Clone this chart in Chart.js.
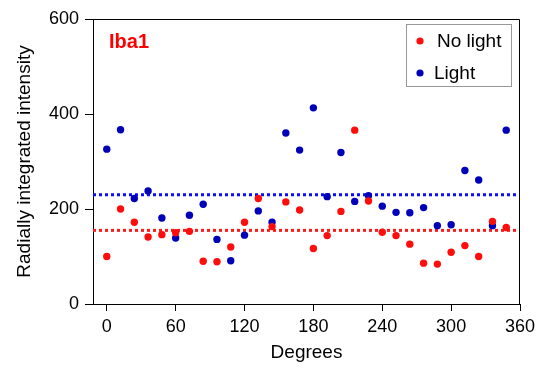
<!DOCTYPE html>
<html>
<head>
<meta charset="utf-8">
<script src="https://cdn.jsdelivr.net/npm/chart.js@4"></script>
<style>
  html, body { margin: 0; padding: 0; background: #fff; }
  #chart { display: block; }
</style>
</head>
<body>
<canvas id="chart" width="543" height="369"></canvas>
<script>
// Data
const degrees = [0, 12, 24, 36, 48, 60, 72, 84, 96, 108, 120, 132, 144, 156, 168,
                 180, 192, 204, 216, 228, 240, 252, 264, 276, 288, 300, 312, 324, 336, 348];
const noLight = [100, 200, 172, 141, 146, 150, 153, 90, 89, 120, 172, 222, 163, 215, 198,
                 117, 144, 195, 366, 217, 151, 144, 126, 86, 84, 109, 123, 100, 174, 161];
const light = [326, 367, 222, 238, 181, 139, 187, 210, 136, 91, 145, 196, 172, 360, 324,
               413, 226, 319, 216, 228, 206, 193, 192, 203, 165, 167, 281, 261, 165, 366];
const noLightMean = 155;
const lightMean = 230;
const xTicks = [0, 60, 120, 180, 240, 300, 360];
const yTicks = [0, 200, 400, 600];

const RED = '#ff0d0d';
const BLUE = '#0000b8';
const FONT = 'Arial, "Liberation Sans", Helvetica, sans-serif';

// Frame, panel label and legend box
const decorations = {
    id: 'decorations',
    afterDraw(chart) {
        const { ctx, chartArea: a } = chart;
        ctx.save();
        // top and right side of the frame
        ctx.strokeStyle = '#000';
        ctx.lineWidth = 1;
        ctx.beginPath();
        ctx.moveTo(a.left, a.top + 0.5);
        ctx.lineTo(a.right - 0.5, a.top + 0.5);
        ctx.lineTo(a.right - 0.5, a.bottom);
        ctx.stroke();

        // panel label
        ctx.fillStyle = '#ff0000';
        ctx.font = 'bold 20px ' + FONT;
        ctx.textBaseline = 'middle';
        ctx.fillText('Iba1', 109, 42);

        // legend
        ctx.strokeStyle = '#999';
        ctx.strokeRect(406.5, 24.5, 105, 62);
        const items = [
            { label: 'No light', color: RED, x: 437, y: 41 },
            { label: 'Light', color: BLUE, x: 434, y: 73 }
        ];
        ctx.font = '19px ' + FONT;
        items.forEach(it => {
            ctx.fillStyle = it.color;
            ctx.beginPath();
            ctx.arc(420, it.y, 3.6, 0, Math.PI * 2);
            ctx.fill();
            ctx.fillStyle = '#000';
            ctx.fillText(it.label, it.x, it.y + 1);
        });
        ctx.restore();
    }
};

const ctx = document.getElementById('chart').getContext('2d');
new Chart(ctx, {
    type: 'scatter',
    data: {
        datasets: [
            {
                label: 'No light',
                data: degrees.map((d, i) => ({ x: d, y: noLight[i] })),
                backgroundColor: RED,
                borderColor: RED,
                borderWidth: 0,
                pointRadius: 3.7,
                order: 1
            },
            {
                label: 'Light',
                data: degrees.map((d, i) => ({ x: d, y: light[i] })),
                backgroundColor: BLUE,
                borderColor: BLUE,
                borderWidth: 0,
                pointRadius: 3.7,
                order: 1
            },
            {
                type: 'line',
                label: 'No light mean',
                data: [{ x: -12, y: noLightMean }, { x: 360, y: noLightMean }],
                borderColor: '#ff1a1a',
                borderWidth: 3,
                borderDash: [3, 3],
                pointRadius: 0,
                order: 2
            },
            {
                type: 'line',
                label: 'Light mean',
                data: [{ x: -12, y: lightMean }, { x: 360, y: lightMean }],
                borderColor: '#0a0aff',
                borderWidth: 3,
                borderDash: [3, 3],
                pointRadius: 0,
                order: 2
            }
        ]
    },
    options: {
        responsive: false,
        animation: false,
        layout: { padding: { top: 19, right: 23, left: 0, bottom: 0 } },
        plugins: {
            legend: { display: false },
            tooltip: { enabled: false }
        },
        scales: {
            x: {
                type: 'linear',
                min: -12,
                max: 360,
                afterBuildTicks: s => { s.ticks = xTicks.map(v => ({ value: v })); },
                afterFit: s => { s.height = 65; },
                ticks: { color: '#000', font: { family: FONT, size: 18 }, padding: 5, maxRotation: 0 },
                grid: { drawOnChartArea: false, tickLength: 7, color: '#000' },
                border: { color: '#000', width: 1 },
                title: {
                    display: true, text: 'Degrees', color: '#000',
                    font: { family: FONT, size: 19 }, padding: { top: 0, bottom: 5 }
                }
            },
            y: {
                min: 0,
                max: 600,
                afterBuildTicks: s => { s.ticks = yTicks.map(v => ({ value: v })); },
                afterFit: s => { s.width = 93; },
                ticks: { color: '#000', font: { family: FONT, size: 18 }, padding: 6 },
                grid: { drawOnChartArea: false, tickLength: 8, color: '#000' },
                border: { color: '#000', width: 1 },
                title: {
                    display: true, text: 'Radially integrated intensity', color: '#000',
                    font: { family: FONT, size: 19 }, padding: { top: 13, bottom: 0 }
                }
            }
        }
    },
    plugins: [decorations]
});
</script>
</body>
</html>
